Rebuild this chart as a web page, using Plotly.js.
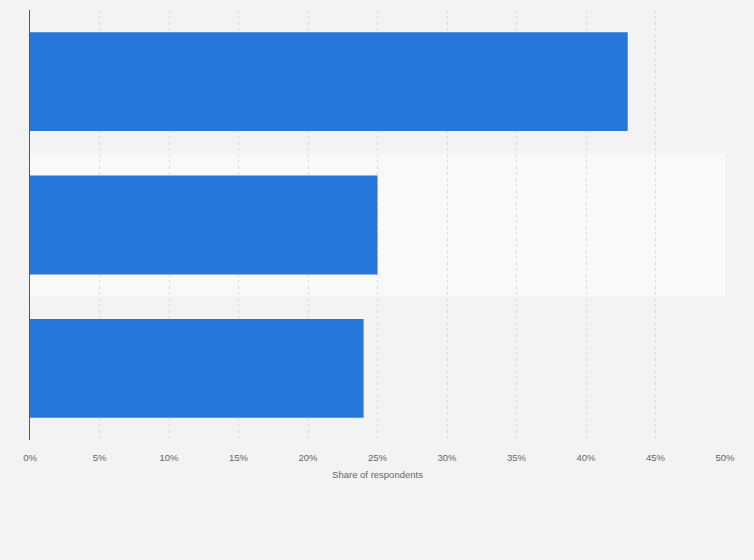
<!DOCTYPE html>
<html>
<head>
<meta charset="utf-8">
<script src="https://cdn.plot.ly/plotly-3.0.1.min.js"></script>
<style>html,body{margin:0;padding:0;background:#f3f3f3;}</style>
</head>
<body>
<div id="chart" style="width:754px;height:560px;"></div>
<script>
const categories = ["Response A", "Response B", "Response C"];
const shares = [43, 25, 24];
const tickValues = [0, 5, 10, 15, 20, 25, 30, 35, 40, 45, 50];
const tickLabels = ["0%", "5%", "10%", "15%", "20%", "25%", "30%", "35%", "40%", "45%", "50%"];

const trace = {
  type: "bar",
  orientation: "h",
  y: categories,
  x: shares,
  marker: {color: "#2676db"},
  hoverinfo: "x+y"
};

const layout = {
  width: 754,
  height: 560,
  margin: {l: 30, r: 29, t: 10, b: 120},
  paper_bgcolor: "#f3f3f3",
  plot_bgcolor: "#f3f3f3",
  bargap: 0.31,
  showlegend: false,
  font: {family: "Liberation Sans, Arial, sans-serif", color: "#666"},
  xaxis: {
    range: [0, 50],
    tickvals: tickValues,
    ticktext: tickLabels,
    showgrid: true,
    gridcolor: "#dcdcdc",
    griddash: "dot",
    gridwidth: 1,
    zeroline: false,
    showline: false,
    ticks: "outside",
    ticklen: 9,
    tickcolor: "rgba(0,0,0,0)",
    tickfont: {size: 9.5, color: "#666"},
    title: {text: "Share of respondents", font: {size: 9.5, color: "#666"}, standoff: 8},
    fixedrange: true
  },
  yaxis: {
    type: "category",
    autorange: "reversed",
    showticklabels: false,
    showgrid: false,
    zeroline: false,
    showline: true,
    linecolor: "#555",
    linewidth: 1.2,
    ticks: "",
    fixedrange: true
  },
  shapes: [{
    type: "rect",
    layer: "below",
    xref: "paper", x0: 0, x1: 1,
    yref: "y", y0: 0.5, y1: 1.5,
    fillcolor: "#f9f9f9",
    line: {width: 0}
  }]
};

Plotly.newPlot("chart", [trace], layout, {displayModeBar: false, staticPlot: true});
</script>
</body>
</html>
